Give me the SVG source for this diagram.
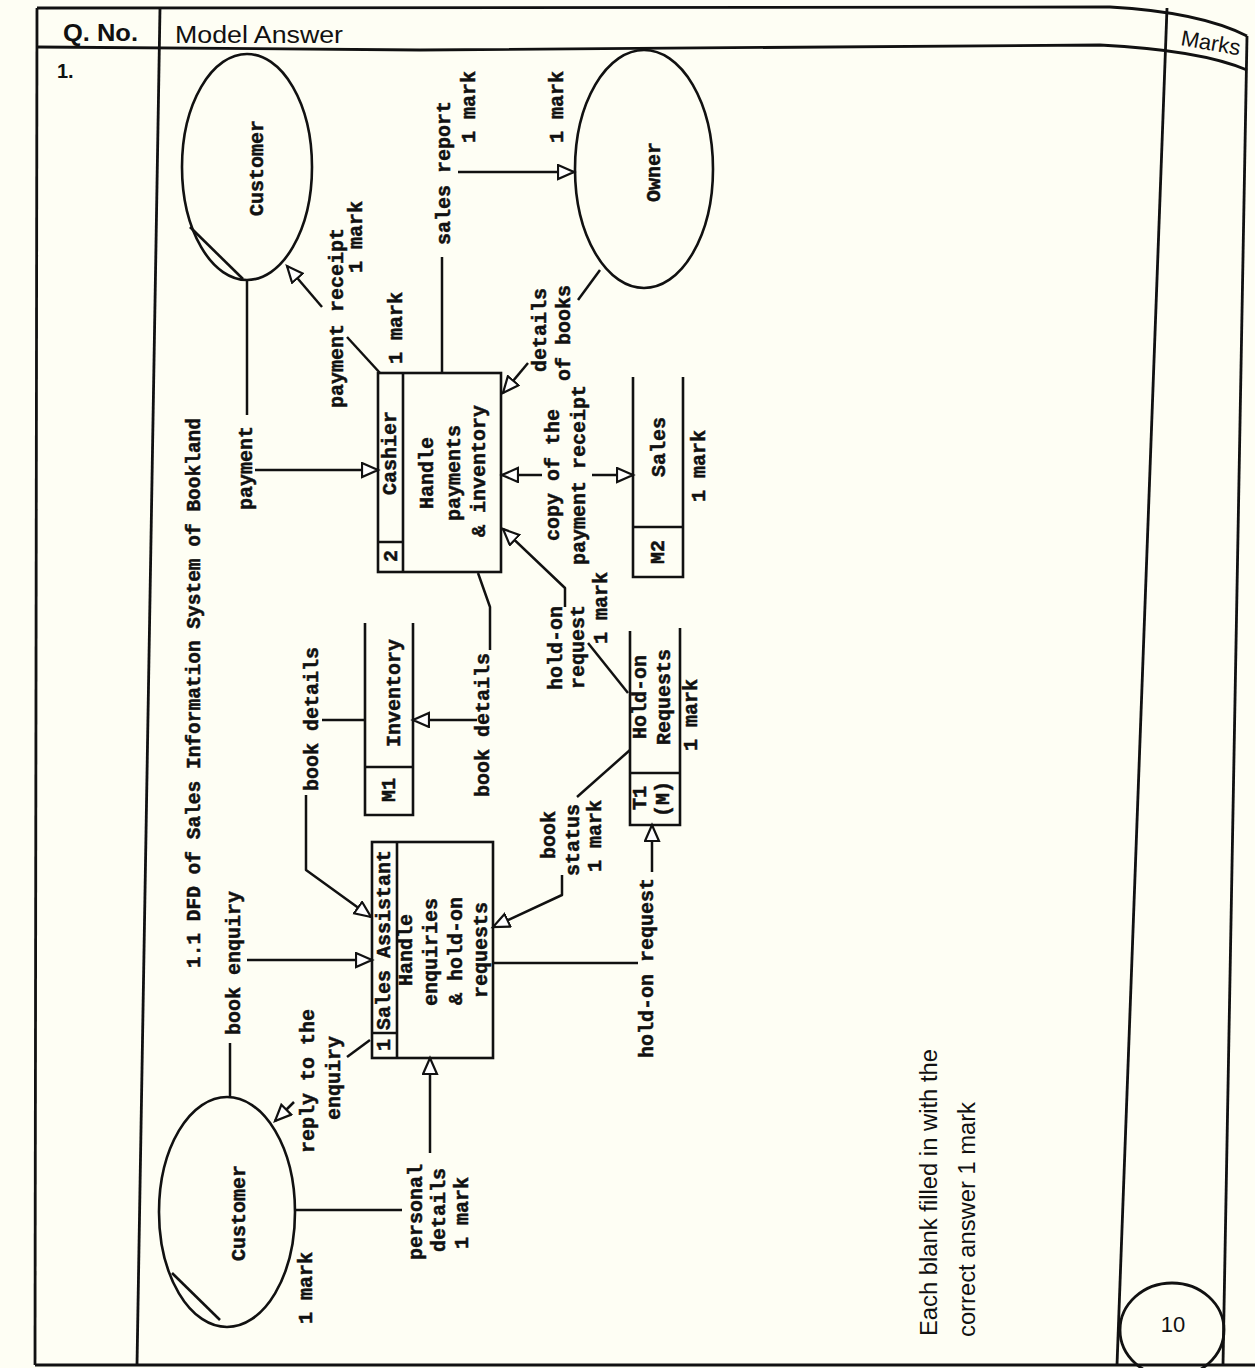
<svg xmlns="http://www.w3.org/2000/svg" width="1255" height="1368" viewBox="0 0 1255 1368">
<defs>
<style>
.ln{fill:none;stroke:#111;stroke-width:2.5;stroke-linejoin:round}
.fr{fill:none;stroke:#111;stroke-width:2.8}
.nd{fill:none;stroke:#111;stroke-width:2.6}
.t{font-family:"Liberation Mono","DejaVu Sans Mono",monospace;font-weight:bold;font-size:20px;fill:#111;stroke:#111;stroke-width:0.5;text-anchor:middle}
.hd{font-family:"Liberation Sans","Open Sans",sans-serif;fill:#111}
</style>
<marker id="ah" markerUnits="userSpaceOnUse" markerWidth="22" markerHeight="20" refX="17" refY="8" orient="auto">
<path d="M1,1 L17,8 L1,15 z" fill="#fff" stroke="#111" stroke-width="2.2" stroke-linejoin="miter"/>
</marker>
</defs>
<rect x="0" y="0" width="1255" height="1368" fill="#fefef4"/>

<g id="page">
<path class="fr" d="M37,8 L1110,7 Q1200,12 1247,36"/>
<path class="fr" d="M37,47 L420,50 L1100,45 Q1200,50 1247,70" stroke-width="3.2"/>
<path class="fr" d="M37,8 L35,1365"/>
<path class="fr" d="M160,8 L137,1365" stroke-width="2"/>
<path class="fr" d="M1167,8 L1117,1365" stroke-width="2"/>
<path class="fr" d="M1247,36 L1223,1365" stroke-width="2"/>
<path class="fr" d="M35,1365 L1255,1365" stroke-width="3"/>
<text class="hd" x="63" y="41" font-size="23" font-weight="bold" textLength="75" lengthAdjust="spacingAndGlyphs">Q. No.</text>
<text class="hd" x="175" y="43" font-size="23" textLength="168" lengthAdjust="spacingAndGlyphs">Model Answer</text>
<text class="hd" transform="translate(1180,45) rotate(10)" font-size="22">Marks</text>
<text class="hd" x="57" y="78" font-size="20" font-weight="bold">1.</text>
<text class="hd" transform="translate(937,1336) rotate(-90)" font-size="23" textLength="287" lengthAdjust="spacingAndGlyphs">Each blank filled in with the</text>
<text class="hd" transform="translate(975,1337) rotate(-90)" font-size="23" textLength="235" lengthAdjust="spacingAndGlyphs">correct answer 1 mark</text>
<ellipse cx="1172" cy="1330" rx="52" ry="47" class="fr"/>
<text class="hd" x="1173" y="1332" font-size="22" text-anchor="middle">10</text>
</g>

<g id="title">
<text class="t" transform="translate(200,693) rotate(-90)" font-size="19" textLength="550" lengthAdjust="spacingAndGlyphs">1.1 DFD of Sales Information System of Bookland</text>
</g>

<g id="customer-top">
<ellipse cx="247" cy="167" rx="65" ry="113" class="nd"/>
<path class="nd" d="M190,227 L243,279"/>
<text class="t" transform="translate(263,168) rotate(-90)">Customer</text>
</g>

<g id="owner">
<ellipse cx="644" cy="169" rx="69" ry="119" class="nd"/>
<text class="t" transform="translate(660,172) rotate(-90)">Owner</text>
</g>

<g id="process-2-cashier">
<rect x="378" y="373" width="123" height="199" class="nd"/>
<path class="nd" d="M403,373 V572 M378,542 H403"/>
<text class="t" transform="translate(396,453) rotate(-90)">Cashier</text>
<text class="t" transform="translate(397,556) rotate(-90)">2</text>
<text class="t" transform="translate(433,473) rotate(-90)">Handle</text>
<text class="t" transform="translate(460,473) rotate(-90)">payments</text>
<text class="t" transform="translate(485,471) rotate(-90)">&amp; inventory</text>
</g>

<g id="store-m2-sales">
<path class="nd" d="M633,377 V577 H683 V377 M633,527 H683"/>
<text class="t" transform="translate(665,447) rotate(-90)">Sales</text>
<text class="t" transform="translate(664,552) rotate(-90)">M2</text>
<text class="t" transform="translate(705,466) rotate(-90)">1 mark</text>
</g>

<g id="store-m1-inventory">
<path class="nd" d="M365,623 V815 H413 V623 M365,767 H413"/>
<text class="t" transform="translate(400,693) rotate(-90)">Inventory</text>
<text class="t" transform="translate(395,790) rotate(-90)">M1</text>
</g>

<g id="store-t1-holdon">
<path class="nd" d="M630,631 V825 H680 V628 M630,773 H680"/>
<text class="t" transform="translate(646,697) rotate(-90)">Hold-on</text>
<text class="t" transform="translate(670,697) rotate(-90)">Requests</text>
<text class="t" transform="translate(646,798) rotate(-90)">T1</text>
<text class="t" transform="translate(669,799) rotate(-90)" font-size="15">(M)</text>
<text class="t" transform="translate(697,715) rotate(-90)">1 mark</text>
</g>

<g id="process-1-sales-assistant">
<rect x="372" y="842" width="121" height="216" class="nd"/>
<path class="nd" d="M397,842 V1058 M372,1033 H397"/>
<text class="t" transform="translate(390,940) rotate(-90)">Sales Assistant</text>
<text class="t" transform="translate(390,1045) rotate(-90)">1</text>
<text class="t" transform="translate(412,950) rotate(-90)">Handle</text>
<text class="t" transform="translate(437,952) rotate(-90)">enquiries</text>
<text class="t" transform="translate(462,951) rotate(-90)">&amp; hold-on</text>
<text class="t" transform="translate(487,950) rotate(-90)">requests</text>
</g>

<g id="customer-bottom">
<ellipse cx="227" cy="1212" rx="68" ry="115" class="nd"/>
<path class="nd" d="M172,1273 L220,1320"/>
<text class="t" transform="translate(245,1213) rotate(-90)">Customer</text>
<text class="t" transform="translate(312,1288) rotate(-90)">1 mark</text>
</g>

<g id="connectors">
<path class="ln" d="M247,281 V415"/>
<path class="ln" d="M255,470 H378" marker-end="url(#ah)"/>
<text class="t" transform="translate(252,468) rotate(-90)">payment</text>
<path class="ln" d="M380,373 L347,337"/>
<path class="ln" d="M322,307 L287,266" marker-end="url(#ah)"/>
<text class="t" transform="translate(343,318) rotate(-90)">payment receipt</text>
<text class="t" transform="translate(362,237) rotate(-90)">1 mark</text>
<text class="t" transform="translate(402,328) rotate(-90)">1 mark</text>
<path class="ln" d="M442,373 V257"/>
<path class="ln" d="M458,172 H574" marker-end="url(#ah)"/>
<text class="t" transform="translate(450,173) rotate(-90)">sales report</text>
<text class="t" transform="translate(475,107) rotate(-90)">1 mark</text>
<text class="t" transform="translate(563,107) rotate(-90)">1 mark</text>
<path class="ln" d="M600,270 L578,300"/>
<path class="ln" d="M528,363 L503,393" marker-end="url(#ah)"/>
<text class="t" transform="translate(546,330) rotate(-90)">details</text>
<text class="t" transform="translate(570,333) rotate(-90)">of books</text>
<path class="ln" d="M542,475 H502" marker-end="url(#ah)"/>
<path class="ln" d="M592,475 H633" marker-end="url(#ah)"/>
<text class="t" transform="translate(559,475) rotate(-90)">copy of the</text>
<text class="t" transform="translate(585,475) rotate(-90)">payment receipt</text>
<path class="ln" d="M628,693 L588,643"/>
<path class="ln" d="M565,607 V588 L503,529" marker-end="url(#ah)"/>
<text class="t" transform="translate(562,648) rotate(-90)">hold-on</text>
<text class="t" transform="translate(584,647) rotate(-90)">request</text>
<text class="t" transform="translate(607,608) rotate(-90)">1 mark</text>
<path class="ln" d="M478,573 L490,607 V650"/>
<path class="ln" d="M477,720 H413" marker-end="url(#ah)"/>
<text class="t" transform="translate(489,725) rotate(-90)">book details</text>
<path class="ln" d="M365,720 H322"/>
<path class="ln" d="M306,795 V870 L371,917" marker-end="url(#ah)"/>
<text class="t" transform="translate(318,719) rotate(-90)">book details</text>
<path class="ln" d="M230,1098 V1043"/>
<path class="ln" d="M247,960 H372" marker-end="url(#ah)"/>
<text class="t" transform="translate(240,963) rotate(-90)">book enquiry</text>
<path class="ln" d="M370,1040 L347,1057"/>
<path class="ln" d="M294,1102 L275,1121" marker-end="url(#ah)"/>
<text class="t" transform="translate(314,1081) rotate(-90)">reply to the</text>
<text class="t" transform="translate(340,1078) rotate(-90)">enquiry</text>
<path class="ln" d="M295,1210 H402"/>
<path class="ln" d="M430,1153 V1058" marker-end="url(#ah)"/>
<text class="t" transform="translate(422,1212) rotate(-90)">personal</text>
<text class="t" transform="translate(445,1210) rotate(-90)">details</text>
<text class="t" transform="translate(468,1213) rotate(-90)">1 mark</text>
<path class="ln" d="M493,963 H638"/>
<path class="ln" d="M652,872 V825" marker-end="url(#ah)"/>
<text class="t" transform="translate(653,968) rotate(-90)">hold-on request</text>
<path class="ln" d="M630,750 L577,797"/>
<path class="ln" d="M562,875 V895 L493,927" marker-end="url(#ah)"/>
<text class="t" transform="translate(555,835) rotate(-90)">book</text>
<text class="t" transform="translate(579,840) rotate(-90)">status</text>
<text class="t" transform="translate(601,836) rotate(-90)">1 mark</text>
</g>
</svg>
